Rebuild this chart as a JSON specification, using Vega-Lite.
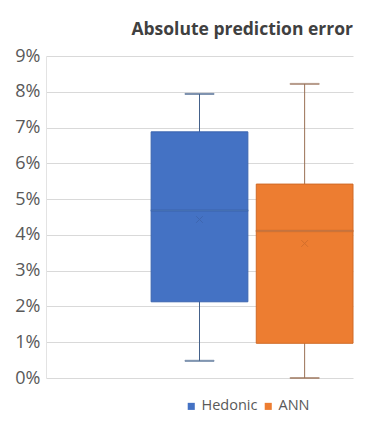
{
  "$schema": "https://vega.github.io/schema/vega-lite/v6.json",
  "width": 307,
  "height": 322,
  "autosize": {"type": "none"},
  "padding": {"left": 46, "top": 56, "right": 28, "bottom": 53},
  "background": "white",
  "config": {
    "view": {"stroke": null},
    "font": "Open Sans",
    "axisY": {
      "tickCount": 10,
      "labelOverlap": false,
      "labelFlush": false,
      "format": ".0%",
      "title": null,
      "grid": true,
      "gridColor": "#D9D9D9",
      "gridWidth": 1,
      "domain": true,
      "domainColor": "#E3E3E3",
      "ticks": false,
      "labelFontSize": 18,
      "labelColor": "#595959",
      "labelPadding": 6,
      "labelFont": "Open Sans"
    }
  },
  "title": {
    "text": "Absolute prediction error",
    "anchor": "end",
    "frame": "group",
    "fontSize": 17.5,
    "fontWeight": "bold",
    "color": "#404040",
    "baseline": "alphabetic",
    "offset": -5,
    "font": "Open Sans"
  },
  "data": {
    "values": [
      {"series": "Hedonic", "lower": 0.0048, "q1": 0.0213, "median": 0.0468, "mean": 0.0443, "q3": 0.0688, "upper": 0.0794},
      {"series": "ANN", "lower": 0.0, "q1": 0.0097, "median": 0.0411, "mean": 0.0376, "q3": 0.0542, "upper": 0.0822}
    ]
  },
  "encoding": {
    "x": {
      "field": "series",
      "type": "nominal",
      "scale": {"domain": ["pad", "Hedonic", "ANN"], "paddingInner": 0.08, "paddingOuter": 0},
      "axis": null
    }
  },
  "layer": [
    {
      "mark": {"type": "rule", "strokeWidth": 1},
      "encoding": {
        "y": {
          "field": "lower",
          "type": "quantitative",
          "scale": {"domain": [0, 0.09], "nice": false},
          "axis": {"values": [0, 0.01, 0.02, 0.03, 0.04, 0.05, 0.06, 0.07, 0.08, 0.09]}
        },
        "y2": {"field": "upper"},
        "stroke": {"condition": {"test": "datum.series === 'Hedonic'", "value": "#44618A"}, "value": "#9A7055"}
      }
    },
    {
      "mark": {"type": "tick", "orient": "horizontal", "size": 29, "thickness": 1},
      "encoding": {
        "y": {"field": "upper", "type": "quantitative"},
        "stroke": {"condition": {"test": "datum.series === 'Hedonic'", "value": "#44618A"}, "value": "#9A7055"}
      }
    },
    {
      "mark": {"type": "tick", "orient": "horizontal", "size": 29, "thickness": 1},
      "encoding": {
        "y": {"field": "lower", "type": "quantitative"},
        "stroke": {"condition": {"test": "datum.series === 'Hedonic'", "value": "#44618A"}, "value": "#9A7055"}
      }
    },
    {
      "mark": {"type": "bar", "strokeWidth": 1},
      "encoding": {
        "y": {"field": "q1", "type": "quantitative"},
        "y2": {"field": "q3"},
        "fill": {
          "field": "series",
          "type": "nominal",
          "scale": {"domain": ["Hedonic", "ANN"], "range": ["#4472C4", "#ED7D31"]},
          "legend": {
            "orient": "none",
            "legendX": 138,
            "legendY": 343,
            "direction": "horizontal",
            "title": null,
            "symbolType": "square",
            "symbolSize": 50,
            "symbolStrokeWidth": 0,
            "labelFontSize": 14.5,
            "labelColor": "#595959",
            "labelFont": "Open Sans",
            "labelOffset": 3,
            "columnPadding": 3
          }
        },
        "stroke": {"condition": {"test": "datum.series === 'Hedonic'", "value": "#3A64AE"}, "value": "#D06A26"}
      }
    },
    {
      "mark": {"type": "tick", "orient": "horizontal", "size": 97, "thickness": 1.5},
      "encoding": {
        "y": {"field": "median", "type": "quantitative"},
        "stroke": {"condition": {"test": "datum.series === 'Hedonic'", "value": "#3C66B0"}, "value": "#D26C28"}
      }
    },
    {
      "mark": {"type": "point", "shape": "M-1,-1L1,1M1,-1L-1,1", "size": 45, "filled": false, "strokeWidth": 1},
      "encoding": {
        "y": {"field": "mean", "type": "quantitative"},
        "stroke": {"condition": {"test": "datum.series === 'Hedonic'", "value": "#3C62A8"}, "value": "#C9692A"}
      }
    }
  ]
}
